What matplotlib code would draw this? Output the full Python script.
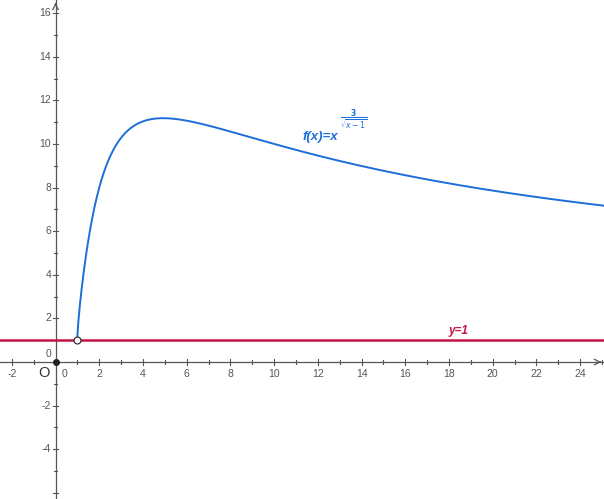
import numpy as np
import matplotlib
matplotlib.use("Agg")
import matplotlib.pyplot as plt

# Function definition shown in the chart label: f(x) = x^(3/sqrt(x-1)), x > 1
x_start, x_end = 1.0, 25.5
hline_y = 1
x_ticks = [-2, 2, 4, 6, 8, 10, 12, 14, 16, 18, 20, 22, 24]
y_ticks = [-4, -2, 2, 4, 6, 8, 10, 12, 14, 16]
open_point = (1, 1)
xlim = (-2.54, 25.09)
ylim = (-6.28, 16.6)

blue = "#1c6fd8"
red = "#c21446"
gray = "#555555"

fig = plt.figure(figsize=(6.04, 4.99), dpi=100)
ax = fig.add_axes([0, 0, 1, 1])
ax.set_xlim(*xlim)
ax.set_ylim(*ylim)
ax.axis("off")

# axes lines
ax.plot([xlim[0], xlim[1]], [0, 0], color=gray, lw=0.9, zorder=1)
ax.plot([0, 0], [ylim[0], ylim[1]], color=gray, lw=0.9, zorder=1)
ax.annotate("", xy=(xlim[1], 0), xytext=(xlim[1] - 0.3, 0),
            arrowprops=dict(arrowstyle="->", color=gray, lw=0.9))
ax.annotate("", xy=(0, ylim[1]), xytext=(0, ylim[1] - 0.3),
            arrowprops=dict(arrowstyle="->", color=gray, lw=0.9))

tk = 0.12
for t in range(-2, 26):
    if t == 0:
        continue
    s = tk if t % 2 == 0 else tk * 0.6
    ax.plot([t, t], [-s, s], color=gray, lw=0.8)
for t in range(-6, 17):
    if t == 0:
        continue
    s = tk if t % 2 == 0 else tk * 0.6
    ax.plot([-s, s], [t, t], color=gray, lw=0.8)

for t in x_ticks:
    ax.text(t, -0.3, str(t), ha="center", va="top", fontsize=7.5, color="#555555",
            family="Liberation Sans")
for t in y_ticks:
    ax.text(-0.2, t, str(t), ha="right", va="center", fontsize=7.5, color="#555555",
            family="Liberation Sans")
ax.text(-0.2, 0.15, "0", ha="right", va="bottom", fontsize=7.5, color="#555555",
        family="Liberation Sans")
ax.text(0.3, -0.3, "0", ha="left", va="top", fontsize=7.5, color="#555555",
        family="Liberation Sans")
ax.text(-0.25, -0.2, "O", ha="right", va="top", fontsize=10.5, color="#333333",
        family="Liberation Sans")
ax.plot(0, 0, "o", color="#222222", ms=4, zorder=5)

# horizontal line y = 1
ax.plot([xlim[0], xlim[1]], [hline_y, hline_y], color=red, lw=1.8, zorder=2)
ax.text(18.45, hline_y + 0.15, "y=1", color=red, fontsize=8.5, fontweight="bold",
        fontstyle="italic", ha="center", va="bottom", family="Liberation Sans")

# curve
xs = np.linspace(1.5, x_end, 4000)
xs = np.concatenate([1 + np.geomspace(1e-6, 0.5, 800)[:-1], xs])
ys = xs ** (3 / np.sqrt(xs - 1))
ax.plot(np.concatenate([[x_start], xs]), np.concatenate([[1.0], ys]), color=blue, lw=1.4, zorder=3)
ax.plot(*open_point, "o", mfc="white", mec="#333333", ms=5, mew=0.9, zorder=6)

ax.text(11.3, 10.18, "f(x)=x", color=blue, fontsize=9.5, fontweight="bold",
        fontstyle="italic", ha="left", va="baseline", family="Liberation Sans")
ax.text(13.0, 11.1, r"$\frac{\mathbf{3}}{\sqrt{x-1}}$", color=blue, fontsize=8,
        ha="left", va="center")

fig.savefig("out.png", dpi=100)
